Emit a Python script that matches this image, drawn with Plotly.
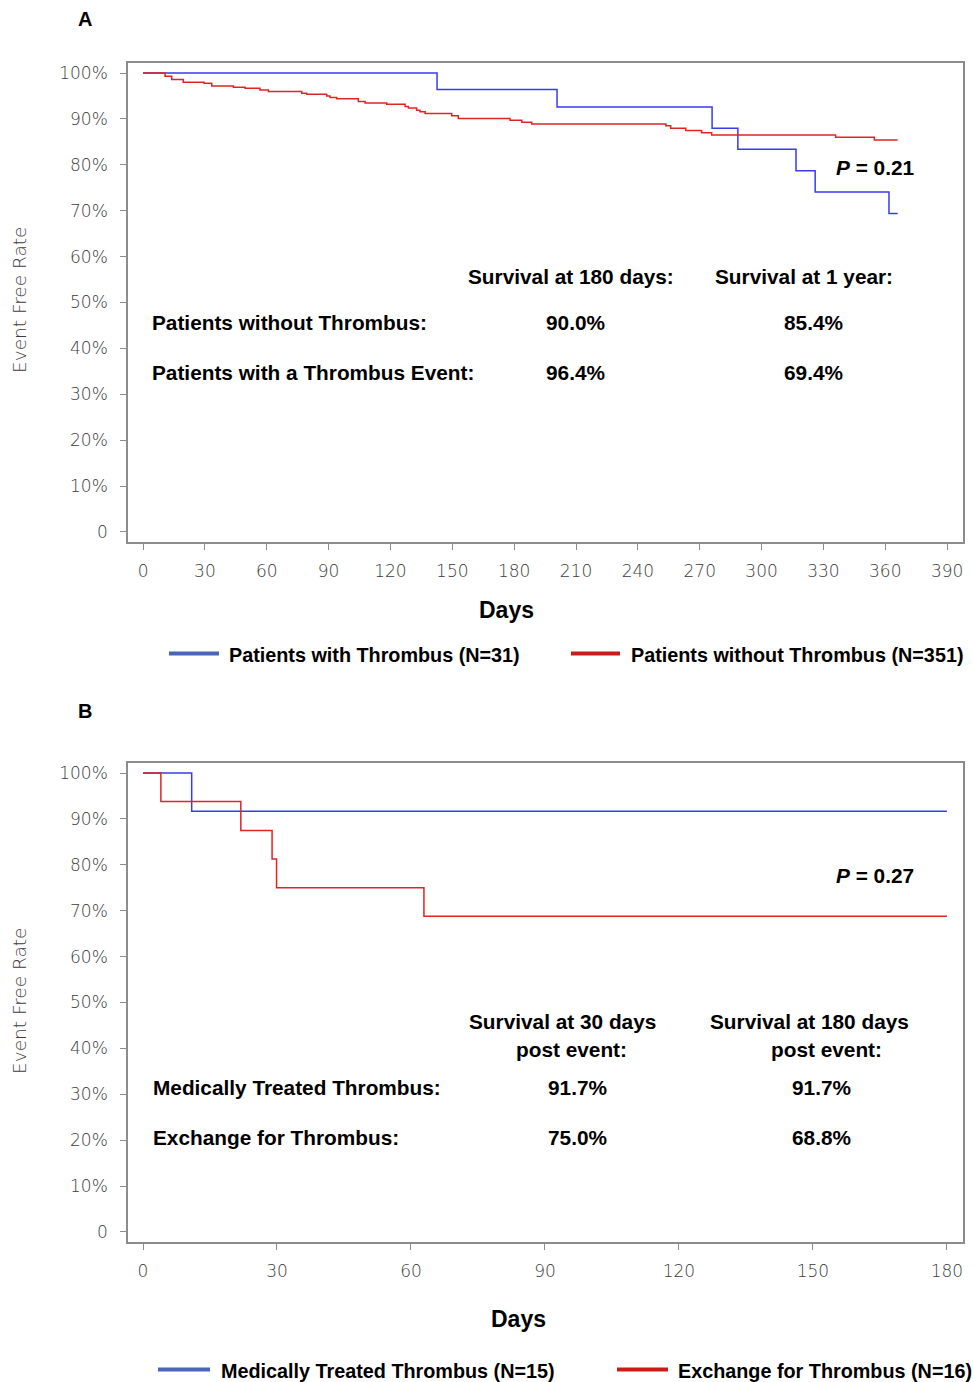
import plotly.graph_objects as go

W, H = 973, 1382

# ---------------- data ----------------
a_with_days = [0, 142.6, 200.8, 276.0, 288.5, 316.7, 326.0, 361.8, 366.0]
a_with_surv = [100, 96.4, 92.6, 88.0, 83.4, 78.7, 74.1, 69.4, 69.4]

a_without_days = [0, 10.7, 13.9, 19.5, 29.6, 33.3, 43.8, 49.5, 56.7, 60.8, 77.0, 79.4,
                  89.1, 90.7, 93.9, 104.4, 107.7, 118.2, 127.1, 128.7, 132.7, 134.3,
                  136.8, 149.7, 152.9, 178.0, 183.7, 188.5, 253.6, 255.9, 263.2, 270.9,
                  275.8, 335.9, 354.7, 366.0]
a_without_surv = [100, 99.3, 98.6, 98.0, 97.8, 97.2, 96.9, 96.7, 96.3, 96.0, 95.6, 95.4,
                  95.0, 94.7, 94.4, 93.8, 93.5, 93.2, 92.7, 92.4, 91.9, 91.6,
                  91.2, 90.7, 90.1, 89.7, 89.3, 88.9, 88.5, 88.0, 87.5, 87.0,
                  86.5, 86.0, 85.4, 85.4]

b_med_days = [0, 10.9, 180]
b_med_surv = [100, 91.7, 91.7]
b_exch_days = [0, 4.0, 21.9, 28.9, 29.9, 62.9, 180]
b_exch_surv = [100, 93.8, 87.5, 81.3, 75.0, 68.8, 68.8]

y_ticks = [0, 10, 20, 30, 40, 50, 60, 70, 80, 90, 100]
y_ticktext = ["0", "10%", "20%", "30%", "40%", "50%", "60%", "70%", "80%", "90%", "100%"]
a_x_ticks = list(range(0, 391, 30))
b_x_ticks = list(range(0, 181, 30))

BLUE = "#3a3af5"
RED = "#e02424"
LEG_BLUE = "#4a66b8"
LEG_RED = "#cc1a1a"

# ---------------- helpers ----------------
def px(x):
    return x / W

def py(y):
    return 1 - y / H

fig = go.Figure()
fig.add_trace(go.Scatter(x=a_with_days, y=a_with_surv, mode="lines", line=dict(color=BLUE, width=1.5, shape="hv"),
                         xaxis="x", yaxis="y", showlegend=False, name="Patients with Thrombus (N=31)"))
fig.add_trace(go.Scatter(x=a_without_days, y=a_without_surv, mode="lines", line=dict(color=RED, width=1.5, shape="hv"),
                         xaxis="x", yaxis="y", showlegend=False, name="Patients without Thrombus (N=351)"))
fig.add_trace(go.Scatter(x=b_med_days, y=b_med_surv, mode="lines", line=dict(color=BLUE, width=1.5, shape="hv"),
                         xaxis="x2", yaxis="y2", showlegend=False, name="Medically Treated Thrombus (N=15)"))
fig.add_trace(go.Scatter(x=b_exch_days, y=b_exch_surv, mode="lines", line=dict(color=RED, width=1.5, shape="hv"),
                         xaxis="x2", yaxis="y2", showlegend=False, name="Exchange for Thrombus (N=16)"))

TICKFONT = dict(family="DejaVu Sans", size=17, color="#3c3c3c", weight=300)
FRAME = "#8c8c8c"

common_x = dict(showgrid=False, zeroline=False, showline=True, linecolor=FRAME, linewidth=1.5, mirror=True,
                ticks="outside", ticklen=6, tickcolor=FRAME, tickfont=TICKFONT, ticklabelstandoff=7)
common_y = dict(showgrid=False, zeroline=False, showline=True, linecolor=FRAME, linewidth=1.5, mirror=True,
                ticks="outside", ticklen=6, tickcolor=FRAME, tickfont=TICKFONT, ticklabelstandoff=9,
                tickvals=y_ticks, ticktext=y_ticktext, range=[-2.2, 102.2])

fig.update_layout(
    width=W, height=H, autosize=False,
    margin=dict(l=0, r=0, t=0, b=0),
    paper_bgcolor="white", plot_bgcolor="white",
    xaxis=dict(domain=[px(128), px(963)], anchor="y", range=[-7.3, 397.7], tickvals=a_x_ticks, **common_x),
    yaxis=dict(domain=[py(542), py(63)], anchor="x", **common_y),
    xaxis2=dict(domain=[px(128), px(963)], anchor="y2", range=[-3.36, 183.6], tickvals=b_x_ticks, **common_x),
    yaxis2=dict(domain=[py(1242), py(763)], anchor="x2", **common_y),
)

BOLD = dict(family="Liberation Sans", size=20.8, color="black")
LEGFONT = dict(family="Liberation Sans", size=19.8, color="black")

ann = []
def text(t, x, y, xanchor="center", font=BOLD, **kw):
    ann.append(dict(text=t, x=px(x), y=py(y), xref="paper", yref="paper", xanchor=xanchor, yanchor="middle",
                    showarrow=False, font=font, **kw))

# panel labels
text("<b>A</b>", 84.5, 19, font=dict(family="Liberation Sans", size=20, color="black"))
text("<b>B</b>", 84.5, 711, font=dict(family="Liberation Sans", size=20, color="black"))

# axis titles
for yc in (300, 1001):
    text("Event Free Rate", 19, yc, font=dict(family="DejaVu Sans", size=18.5, color="#3c3c3c", weight=300),
         textangle=-90)
text("<b>Days</b>", 507, 610, font=dict(family="Liberation Sans", size=23, color="black"))
text("<b>Days</b>", 518, 1319, font=dict(family="Liberation Sans", size=23, color="black"))

# panel A annotations
text("<b><i>P</i> = 0.21</b>", 875, 167)
text("<b>Survival at 180 days:</b>", 571, 276)
text("<b>Survival at 1 year:</b>", 804, 276)
text("<b>Patients without Thrombus:</b>", 150, 322, xanchor="left")
text("<b>90.0%</b>", 575, 322)
text("<b>85.4%</b>", 813, 322)
text("<b>Patients with a Thrombus Event:</b>", 150, 372, xanchor="left")
text("<b>96.4%</b>", 575, 372)
text("<b>69.4%</b>", 813, 372)

# panel B annotations
text("<b><i>P</i> = 0.27</b>", 875, 875)
text("<b>Survival at 30 days</b>", 562, 1021)
text("<b>post event:</b>", 571, 1049)
text("<b>Survival at 180 days</b>", 809, 1021)
text("<b>post event:</b>", 826, 1049)
text("<b>Medically Treated Thrombus:</b>", 151, 1087, xanchor="left")
text("<b>91.7%</b>", 577, 1087)
text("<b>91.7%</b>", 821, 1087)
text("<b>Exchange for Thrombus:</b>", 151, 1137, xanchor="left")
text("<b>75.0%</b>", 577, 1137)
text("<b>68.8%</b>", 821, 1137)

# legends (drawn as line swatches + labels)
shapes = []
def swatch(x0, x1, y, color):
    shapes.append(dict(type="line", xref="paper", yref="paper", x0=px(x0), x1=px(x1), y0=py(y), y1=py(y),
                       line=dict(color=color, width=4)))

swatch(169, 219, 653.5, LEG_BLUE)
text("<b>Patients with Thrombus (N=31)</b>", 227, 655, xanchor="left", font=LEGFONT)
swatch(571, 620, 653.5, LEG_RED)
text("<b>Patients without Thrombus (N=351)</b>", 629, 655, xanchor="left", font=LEGFONT)
swatch(158, 210, 1369.5, LEG_BLUE)
text("<b>Medically Treated Thrombus (N=15)</b>", 219, 1371, xanchor="left", font=LEGFONT)
swatch(617, 668, 1369.5, LEG_RED)
text("<b>Exchange for Thrombus (N=16)</b>", 676, 1371, xanchor="left", font=LEGFONT)

fig.update_layout(annotations=ann, shapes=shapes)
fig.write_html("out.html", config={"displayModeBar": False},
               post_script="document.body.style.margin='0';")
